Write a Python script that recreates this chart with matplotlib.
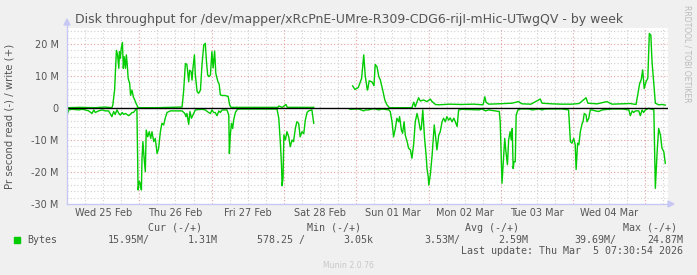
import numpy as np
import matplotlib
matplotlib.use("Agg")
from matplotlib import pyplot as plt

nan = float("nan")

# hours since Wed 25 Feb 00:00, values in MB/s
write_h = [0, 4.3, 9.3, 12.6, 14.9, 15.2, 15.8, 16.4, 16.8, 17.2, 17.4, 17.7, 18.0, 18.4, 18.7,
           19.0, 19.4, 19.7, 20.0, 20.3, 20.8, 21.1, 21.6, 22.0, 22.5, 22.9, 23.6, 30.0, 38.2,
           38.7, 39.3, 39.8, 40.4, 40.7, 41.2, 41.5, 41.8, 42.3, 42.6, 43.2, 43.7, 44.3, 44.8,
           45.4, 45.9, 46.3, 46.7, 47.1, 47.6, 48.1, 48.5, 49.0, 49.4, 50.1, 50.5, 50.9, 51.5,
           52.5, 53.5, 54.0, 54.5, 62.0, 70.0, 70.3, 71.5, 72.7, 73.1, 78.0, 81.9,
           88.0,
           94.8, 95.6, 96.7, 97.8, 98.5, 99.0, 99.7, 99.9, 100.3, 101.2, 101.9, 102.3, 102.9,
           103.5, 104.0, 104.8, 105.5, 106.2, 107.0, 110.0, 114.5, 115.1, 115.6, 116.7, 117.3,
           118.4, 119.5, 120.6, 121.2, 122.3, 123.4, 127.0, 131.0, 135.0, 138.1, 138.7, 139.1,
           140.0, 143.0, 147.7, 149.9, 151.0, 154.0, 157.1, 157.7, 161.0, 164.0, 167.6, 170.0,
           172.3, 172.9, 176.0, 179.2, 180.9, 184.0, 186.9, 188.9, 190.1, 190.6, 191.1, 191.6,
           192.2, 192.8, 193.3, 193.8, 194.2, 194.8, 195.3, 196.4, 197.5, 198.6]
write_v = [0.1, 0.2, 0.1, 0.3, 0.1, 0.9, 5.6, 18.0, 16.5, 12.4, 17.6, 15.5, 18.6, 20.5, 12.4,
           16.0, 12.4, 16.6, 13.5, 9.3, 7.7, 4.0, 5.6, 3.5, 2.5, 1.5, 0.1, 0.1, 0.3,
           5.1, 13.9, 13.6, 8.2, 11.8, 11.3, 8.7, 12.4, 16.6, 10.3, 5.1, 4.6, 5.6, 13.4,
           19.7, 20.2, 14.5, 10.3, 9.8, 10.3, 17.6, 12.5, 17.8, 10.8, 8.2, 7.5, 4.1, 3.9,
           3.9, 3.6, 0.9, 0.2, 0.2, 0.2, 0.6, 0.2, 1.1, 0.2, 0.2, 0.2,
           nan,
           6.9, 5.8, 6.4, 9.3, 16.6, 10.0, 5.6, 6.1, 8.5, 8.2, 7.0, 13.6, 12.9,
           9.8, 8.8, 5.6, 2.5, 1.0, 0.1, 0.1, 0.1, 1.8, 0.4, 3.2, 2.2,
           2.5, 2.0, 2.8, 2.0, 1.1, 1.0, 1.2, 1.1, 1.2, 1.0, 3.5, 1.8,
           1.2, 1.3, 1.5, 2.0, 1.3, 1.2, 2.8, 1.5, 1.3, 1.2, 1.2, 1.4,
           3.2, 1.5, 1.3, 2.0, 1.2, 1.3, 1.4, 1.1, 7.7, 8.8, 11.9, 6.1,
           8.2, 9.3, 23.3, 22.8, 14.5, 7.2, 1.5, 1.0, 1.1, 0.9]

read_h = [0, 0.6, 1.7, 2.8, 3.9, 5.0, 6.1, 7.2, 8.3, 8.9, 9.4, 10.5, 11.6, 12.7, 13.8, 14.9,
          15.5, 16.0, 16.6, 17.2, 17.7, 18.3, 18.8, 19.4, 19.9, 20.5, 21.0, 21.6, 22.1, 22.7,
          23.2, 23.6, 24.0, 24.3, 24.7, 24.9, 25.2, 25.6, 26.0, 26.3, 26.8, 27.3, 27.8, 28.2,
          28.8, 29.3, 29.9, 30.4, 31.0, 31.5, 32.1, 32.6, 33.2, 34.3, 38.2, 39.1, 39.5, 39.8,
          40.4, 40.8, 41.3, 41.8, 42.6, 44.8, 45.9, 47.0, 47.6, 48.1, 48.7, 49.2, 49.8, 50.4,
          50.9, 51.5, 53.1, 53.7, 53.9, 54.2, 54.6, 55.0, 55.3, 55.9, 56.4, 57.0, 69.7, 70.3,
          70.8, 71.2, 71.4, 71.7, 72.0, 72.5, 73.0, 73.6, 74.1, 74.7, 75.2, 75.8, 76.3, 76.9,
          77.4, 78.0, 78.6, 79.1, 79.7, 80.2, 81.3, 81.9,
          88.0,
          93.9, 96.8, 98.5, 99.0, 100.1, 101.2, 102.3, 103.5, 104.6, 106.8, 107.3, 107.9,
          108.4, 109.0, 109.5, 110.1, 110.4, 111.0, 111.4, 111.9, 112.3, 112.9, 113.4, 114.0,
          114.5, 115.1, 115.6, 116.2, 116.7, 117.3, 117.6, 118.1, 118.4, 118.7, 119.2, 119.5,
          119.9, 120.1, 120.6, 121.2, 121.5, 121.9, 122.3, 122.8, 123.4, 123.9, 124.5, 125.0,
          125.6, 126.1, 126.7, 127.2, 127.8, 128.4, 128.9, 129.5, 130.0, 131.1, 136.7, 137.8,
          138.9, 140.0, 142.2, 143.5, 143.8, 144.4, 144.9, 145.3, 145.7, 146.2, 146.6, 147.1,
          147.5, 147.8, 148.1, 148.4, 148.8, 149.1, 149.7, 150.5, 153.3, 154.4, 156.6, 157.7,
          158.8, 164.3, 166.5, 167.1, 167.6, 168.2, 168.7, 169.0, 169.5, 169.9, 170.4, 171.0,
          171.3, 171.7, 172.3, 172.6, 173.2, 173.7, 174.3, 175.4, 176.5, 177.6, 180.9, 184.2,
          186.5, 187.0, 187.6, 188.1, 188.7, 189.8, 190.3, 190.9, 191.4, 192.0, 193.1, 194.2,
          194.8, 195.3, 195.9, 196.4, 197.0, 197.5, 198.1, 198.6]
read_v = [-2.2, -0.6, -0.4, -0.5, -0.6, -0.4, -0.6, -0.9, -1.7, -0.6, -1.4, -0.9, -0.6, -0.9,
          -0.9, -2.7, -1.1, -2.0, -0.6, -1.7, -2.2, -1.4, -2.0, -1.7, -2.0, -2.4, -2.0, -1.4,
          -1.4, -0.6, -0.1, -25.6, -23.0, -23.5, -25.6, -15.7, -10.5, -15.7, -19.9, -6.9, -9.0,
          -7.4, -9.5, -7.4, -10.5, -9.5, -14.2, -12.7, -7.4, -4.8, -5.3, -3.2, -1.4, -0.9, -0.9,
          -1.7, -2.7, -1.7, -5.1, -1.1, -3.2, -2.2, -0.6, -0.4, -0.6, -1.4, -1.7, -0.6, -1.4,
          -1.4, -2.4, -0.9, -1.4, -0.6, -0.6, -2.2, -14.2, -8.5, -4.8, -6.4, -3.8, -1.4, -0.6,
          -0.3, -0.3, -3.2, -10.5, -17.7, -24.3, -22.0, -8.4, -10.0, -7.4, -9.0, -12.1, -10.0,
          -10.5, -6.4, -4.3, -4.8, -9.0, -7.4, -8.0, -3.8, -1.4, -0.9, -0.6, -4.8,
          nan,
          -0.4, -0.3, -0.9, -0.6, -0.6, -0.3, -0.3, -0.6, -0.3, -0.6, -1.1, -4.3,
          -9.0, -6.4, -3.2, -4.3, -2.7, -6.9, -7.9, -4.3, -8.5, -10.5, -12.6, -13.1,
          -15.7, -11.0, -4.3, -1.7, -3.8, -6.9, -6.6, -0.6, -5.3, -9.5, -14.7, -18.9,
          -21.5, -24.1, -20.9, -14.7, -10.5, -5.3, -8.5, -13.1, -8.5, -7.4, -4.3, -3.2,
          -4.3, -2.7, -3.8, -3.1, -4.3, -3.2, -4.3, -5.8, -0.6, -0.4, -0.6, -0.3,
          -0.9, -0.6, -0.9, -1.1, -4.3, -23.5, -15.7, -9.5, -13.6, -17.7, -10.0, -7.4,
          -10.0, -6.4, -18.9, -16.8, -16.8, -2.2, -0.6, -0.3, -0.3, -0.6, -0.3, -0.6,
          -0.3, -0.3, -0.6, -10.5, -11.0, -9.5, -11.5, -19.2, -11.0, -11.5, -7.4, -4.8,
          -4.3, -1.7, -2.2, -4.3, -3.2, -0.6, -0.6, -0.9, -1.1, -0.6, -0.3, -0.3,
          -0.6, -2.4, -0.9, -1.4, -0.9, -0.9, -2.4, -0.6, -1.4, -0.6, -0.1, -0.4,
          -0.6, -25.1, -13.6, -6.4, -8.5, -12.6, -13.6, -17.3]

day_labels = ["Wed 25 Feb", "Thu 26 Feb", "Fri 27 Feb", "Sat 28 Feb",
              "Sun 01 Mar", "Mon 02 Mar", "Tue 03 Mar", "Wed 04 Mar"]
y_ticks = [-30, -20, -10, 0, 10, 20]

legend_heads = ["Cur (-/+)", "Min (-/+)", "Avg (-/+)", "Max (-/+)"]
legend_vals = ["15.95M/", "1.31M", "578.25 /", "3.05k", "3.53M/", "2.59M", "39.69M/", "24.87M"]

W, H = 697, 275
fig = plt.figure(figsize=(W / 100, H / 100), dpi=100)
fig.patch.set_facecolor("#f0f0f0")

x0, x1, ytop, ybot = 67, 668, 28, 204
ax = fig.add_axes([x0 / W, 1 - ybot / H, (x1 - x0) / W, (ybot - ytop) / H])
ax.set_facecolor("white")
t_end = 199.5
ax.set_xlim(0, t_end)
ax.set_ylim(-30, 25)


def px(x, y):
    return x / W, 1 - y / H


# grid: minor every 2M / 6h, major every 10M / midnight
for v in range(-28, 25, 2):
    if v % 10:
        ax.axhline(v, color="#d0d0d0", lw=0.8, ls=(0, (1, 2)), zorder=1)
for h in np.arange(6, t_end, 6):
    if h % 24:
        ax.axvline(h, color="#d0d0d0", lw=0.8, ls=(0, (1, 2)), zorder=1)
for v in [-20, -10, 10, 20]:
    ax.axhline(v, color="#e8a0a0", lw=0.8, ls=(0, (1, 2)), zorder=1)
for h in np.arange(24, t_end, 24):
    ax.axvline(h, color="#e8a0a0", lw=0.8, ls=(0, (1, 2)), zorder=1)

ax.plot(write_h, write_v, color="#00cc00", lw=1.0, zorder=3)
ax.plot(read_h, read_v, color="#00cc00", lw=1.0, zorder=3)
ax.axhline(0, color="black", lw=1.0, zorder=4)

for s in ax.spines.values():
    s.set_visible(False)

# axes with arrows, drawn on the figure so they can go past the plot area
axis_col = "#c8c8f4"
fig.add_artist(plt.Line2D([px(x0, 0)[0]] * 2, [px(0, ybot)[1], px(0, 22)[1]], color=axis_col, lw=1))
fig.add_artist(plt.Line2D([px(x0, 0)[0], px(x1 + 2, 0)[0]], [px(0, ybot)[1]] * 2, color=axis_col, lw=1))
fig.add_artist(plt.Polygon([px(x0 - 3, 25), px(x0 + 3, 25), px(x0, 19)], closed=True,
                           color=axis_col, transform=fig.transFigure))
fig.add_artist(plt.Polygon([px(x1, 201), px(x1, 207), px(x1 + 6, 204)], closed=True,
                           color=axis_col, transform=fig.transFigure))

ax.set_yticks(y_ticks)
ax.set_yticklabels([f"{v} M" if v else "0" for v in y_ticks])
ax.set_xticks([12 + 24 * i for i in range(len(day_labels))])
ax.set_xticklabels(day_labels)
ax.tick_params(length=0, labelsize=7, colors="#555555")
ax.tick_params(axis="x", pad=3)
ax.tick_params(axis="y", pad=6)
ax.set_ylabel("Pr second read (-) / write (+)", fontsize=7.3, color="#555555")
ax.yaxis.set_label_coords((15 - x0) / (x1 - x0), 0.5)

fig.text(*px(349, 19), "Disk throughput for /dev/mapper/xRcPnE-UMre-R309-CDG6-rijI-mHic-UTwgQV - by week",
         ha="center", va="center", fontsize=9.0, color="#555555")
fig.text(*px(687, 5), "RRDTOOL / TOBI OETIKER", rotation=270, ha="center", va="top",
         fontsize=5.5, color="#bbbbbb")

mono = dict(family="DejaVu Sans Mono", fontsize=7.2, color="#555555", va="center")
for x, s in zip([148, 307, 465, 623], legend_heads):
    fig.text(*px(x, 228), s, ha="left", **mono)
fig.add_artist(plt.Rectangle(px(14, 243), 6 / W, 6 / H, color="#00cc00", transform=fig.transFigure))
fig.text(*px(27, 240), "Bytes", ha="left", **mono)
for x, s in zip([108, 188, 257, 343, 424, 498, 574, 647], legend_vals):
    fig.text(*px(x, 240), s, ha="left", **mono)
fig.text(*px(683, 251), "Last update: Thu Mar  5 07:30:54 2026", ha="right", **mono)
fig.text(*px(348, 265), "Munin 2.0.76", ha="center", va="center", fontsize=5.6, color="#c8c8c8")

fig.savefig("out.png", dpi=100, facecolor=fig.get_facecolor())
